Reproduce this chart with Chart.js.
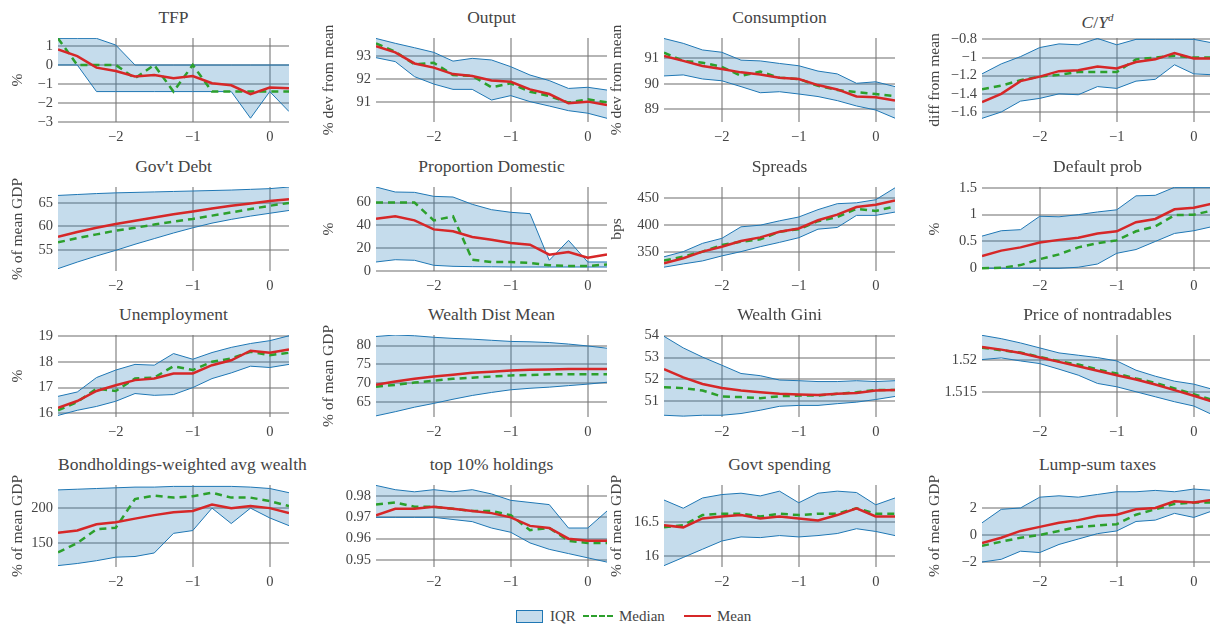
<!DOCTYPE html>
<html>
<head>
<meta charset="utf-8">
<script src="https://cdn.jsdelivr.net/npm/chart.js@4.4.1/dist/chart.umd.min.js"></script>
<style>
body { margin: 0; width: 1210px; height: 628px; overflow: hidden; background: #fff; position: relative;
       font-family: serif; color: #444; }
canvas { position: absolute; }
.ttl { position: absolute; font-size: 17.5px; text-align: center; line-height: 20px; white-space: nowrap; }
.ttl sup { font-size: 11px; }
.lg { position: absolute; font-size: 15px; line-height: 18px; top: 607px; }
.sw { position: absolute; }
</style>
</head>
<body>
<div class="sw" style="left:516px;top:610px;width:25px;height:11px;background:rgba(31,119,180,0.26);border:1px solid #1f77b4"></div>
<div class="lg" style="left:550px">IQR</div>
<div class="sw" style="left:583px;top:615px;width:30px;border-top:2.5px dashed #2ca02c"></div>
<div class="lg" style="left:619px">Median</div>
<div class="sw" style="left:684px;top:615px;width:27px;border-top:2.5px solid #d62728"></div>
<div class="lg" style="left:717px">Mean</div>
<script>
const xVals = [-2.75, -2.5, -2.25, -2, -1.75, -1.5, -1.25, -1, -0.75, -0.5, -0.25, 0, 0.25];
const xTickVals = [-2, -1, 0];

const panelTitles = ['TFP', 'Output', 'Consumption', '<i>C</i>/<i>Y</i><sup><i>d</i></sup>',
    "Gov't Debt", 'Proportion Domestic', 'Spreads', 'Default prob',
    'Unemployment', 'Wealth Dist Mean', 'Wealth Gini', 'Price of nontradables',
    'Bondholdings-weighted avg wealth', 'top 10% holdings', 'Govt spending', 'Lump-sum taxes'];

const yTitles = ['%', '% dev from mean', '% dev from mean', 'diff from mean',
    '% of mean GDP', '%', 'bps', '%',
    '%', '% of mean GDP', '', '',
    '% of mean GDP', '', '% of mean GDP', '% of mean GDP'];

const yTickVals = [
    [-3, -2, -1, 0, 1], [91, 92, 93], [89, 90, 91], [-1.6, -1.4, -1.2, -1, -0.8],
    [55, 60, 65], [0, 20, 40, 60], [350, 400, 450], [0, 0.5, 1, 1.5],
    [16, 17, 18, 19], [65, 70, 75, 80], [51, 52, 53, 54], [1.515, 1.52],
    [150, 200], [0.95, 0.96, 0.97, 0.98], [16, 16.5], [-2, 0, 2]
];

const yRanges = [
    [-3, 1.42], [90.15, 93.78], [88.5, 91.8], [-1.71, -0.785],
    [50.5, 68.4], [0, 73.7], [316, 470], [-0.05, 1.515],
    [15.86, 19.04], [61.1, 82.8], [50.28, 54.03], [1.511, 1.524],
    [116, 233], [0.9467, 0.9852], [15.84, 17.04], [-2.37, 3.7]
];

const iqrLow = [
    [0, 0, -1.4, -1.4, -1.4, -1.4, -1.4, -1.4, -1.4, -1.4, -2.8, -1.4, -2.45],
    [92.93, 92.76, 92.11, 91.79, 91.56, 91.56, 91.1, 91.29, 91.03, 90.84, 90.64, 90.53, 90.31],
    [90.31, 90.35, 90.19, 90.12, 89.89, 89.65, 89.69, 89.6, 89.5, 89.34, 89.13, 88.97, 88.65],
    [-1.67, -1.6, -1.48, -1.45, -1.4, -1.41, -1.32, -1.34, -1.26, -1.24, -1.08, -1.18, -1.19],
    [51.0, 52.4, 53.7, 54.9, 56.2, 57.4, 58.6, 59.7, 60.7, 61.5, 62.2, 62.8, 63.4],
    [7.9, 9.9, 9.4, 5.0, 4.1, 3.8, 3.7, 3.5, 3.5, 3.5, 3.5, 3.5, 3.5],
    [323, 329, 334.5, 343.6, 351.5, 360.6, 368.5, 377, 392.7, 395.8, 418, 418, 424],
    [0, 0, 0, 0, 0, 0.02, 0.08, 0.28, 0.35, 0.5, 0.65, 0.7, 0.78],
    [15.92, 16.12, 16.27, 16.47, 16.77, 16.7, 16.73, 17.0, 17.35, 17.57, 17.83, 17.78, 17.9],
    [61.4, 62.5, 63.7, 64.7, 65.8, 66.8, 67.6, 68.3, 68.7, 69.0, 69.4, 69.8, 70.3],
    [50.36, 50.32, 50.36, 50.36, 50.44, 50.59, 50.77, 50.81, 50.81, 50.89, 50.96, 51.08, 51.22],
    [1.52011, 1.52037, 1.51989, 1.51947, 1.51858, 1.51763, 1.51632, 1.51579, 1.515, 1.51421, 1.51342, 1.51274, 1.51132],
    [118, 121, 125, 130, 131, 136, 164, 168, 200, 178, 200, 186, 175],
    [0.970, 0.970, 0.970, 0.970, 0.969, 0.968, 0.965, 0.963, 0.958, 0.955, 0.953, 0.951, 0.949],
    [15.86, 15.98, 16.10, 16.22, 16.28, 16.27, 16.30, 16.28, 16.30, 16.33, 16.40, 16.36, 16.30],
    [-2.0, -1.8, -1.2, -1.3, -0.7, -0.3, 0.1, 0.3, 1.0, 1.1, 1.6, 1.3, 1.8]
];

const iqrHigh = [
    [1.4, 1.4, 1.4, 1.05, 0, 0, 0, 0, 0, 0, 0, 0, 0],
    [93.76, 93.55, 93.36, 93.16, 92.78, 92.9, 92.83, 92.54, 92.18, 91.94, 91.6, 91.65, 91.53],
    [91.78, 91.59, 91.33, 91.24, 90.93, 90.9, 90.8, 90.71, 90.5, 90.39, 90.02, 90.08, 89.89],
    [-1.18, -1.07, -0.99, -0.89, -0.85, -0.86, -0.79, -0.86, -0.8, -0.8, -0.8, -0.8, -0.84],
    [66.6, 66.8, 67.0, 67.15, 67.25, 67.35, 67.45, 67.55, 67.65, 67.75, 67.9, 68.05, 68.4],
    [73.7, 69.3, 69.0, 65.5, 64.9, 58.5, 53.8, 51.5, 50.3, 9.4, 26.9, 7.9, 7.9],
    [342, 351.5, 366.7, 375.8, 397, 400, 408, 415, 428.5, 439.4, 441, 446.7, 468.5],
    [0.6, 0.7, 0.72, 0.97, 0.96, 1.0, 1.05, 1.09, 1.35, 1.36, 1.51, 1.51, 1.51],
    [16.66, 16.83, 17.39, 17.68, 17.9, 17.87, 18.32, 18.1, 18.36, 18.56, 18.71, 18.82, 19.01],
    [82.4, 82.8, 82.6, 82.2, 81.9, 81.7, 81.4, 81.1, 81.0, 80.8, 80.4, 79.9, 79.3],
    [53.97, 53.44, 53.02, 52.65, 52.27, 52.17, 51.97, 51.94, 51.9, 51.9, 51.94, 51.9, 51.94],
    [1.52395, 1.52342, 1.52274, 1.52195, 1.52116, 1.52079, 1.52042, 1.51989, 1.51842, 1.51747, 1.51668, 1.51621, 1.51537],
    [226, 227, 228, 229, 230, 230, 231, 231, 231, 231, 230, 228, 222],
    [0.985, 0.983, 0.982, 0.983, 0.982, 0.983, 0.981, 0.978, 0.977, 0.976, 0.965, 0.965, 0.973],
    [16.82, 16.70, 16.85, 16.90, 16.92, 16.88, 16.95, 16.78, 16.92, 16.95, 16.93, 16.75, 16.85],
    [0.9, 1.9, 2.0, 2.8, 2.9, 2.8, 3.0, 3.2, 3.2, 3.3, 3.2, 3.4, 3.3]
];

const medianVals = [
    [1.4, 0, 0, 0, -0.7, 0, -1.4, 0, -1.4, -1.4, -1.4, -1.4, -1.4],
    [93.55, 93.19, 92.64, 92.71, 92.18, 92.14, 91.65, 91.82, 91.46, 91.27, 90.99, 91.13, 91.0],
    [91.22, 90.9, 90.83, 90.67, 90.31, 90.48, 90.24, 90.19, 89.92, 89.76, 89.67, 89.6, 89.52],
    [-1.35, -1.31, -1.25, -1.21, -1.19, -1.16, -1.16, -1.16, -1.02, -1.0, -0.98, -1.0, -1.0],
    [56.6, 57.5, 58.3, 59.1, 59.7, 60.4, 61.0, 61.6, 62.3, 63.0, 63.7, 64.4, 65.0],
    [60, 60, 60, 44.4, 48, 9.9, 7.9, 7.9, 7.0, 5.0, 4.4, 4.4, 5.8],
    [335, 342.4, 351.5, 363.6, 369.7, 374, 388, 392.7, 407.3, 415, 430, 426, 434.5],
    [0, 0.01, 0.06, 0.17, 0.26, 0.39, 0.47, 0.52, 0.69, 0.78, 0.99, 1.0, 1.08],
    [16.12, 16.44, 16.96, 16.87, 17.35, 17.39, 17.83, 17.68, 18.0, 18.13, 18.39, 18.26, 18.35],
    [69.1, 69.6, 70.2, 70.7, 71.2, 71.5, 71.8, 72.1, 72.2, 72.4, 72.4, 72.4, 72.4],
    [51.64, 51.6, 51.49, 51.22, 51.19, 51.14, 51.23, 51.26, 51.26, 51.34, 51.41, 51.52, 51.52],
    [1.522, 1.52158, 1.52121, 1.52053, 1.51984, 1.51932, 1.51853, 1.51789, 1.51711, 1.51642, 1.51553, 1.51463, 1.51368],
    [137, 150, 170, 172, 213, 218, 215, 217, 222, 215, 215, 210, 203],
    [0.976, 0.977, 0.975, 0.975, 0.974, 0.973, 0.973, 0.971, 0.964, 0.965, 0.959, 0.958, 0.958],
    [16.42, 16.45, 16.60, 16.62, 16.62, 16.58, 16.62, 16.60, 16.62, 16.62, 16.70, 16.62, 16.62],
    [-0.8, -0.5, -0.2, 0.0, 0.3, 0.6, 0.7, 0.8, 1.5, 1.9, 2.3, 2.4, 2.4]
];

const meanVals = [
    [0.82, 0.47, -0.14, -0.32, -0.6, -0.53, -0.7, -0.58, -0.96, -1.07, -1.54, -1.19, -1.23],
    [93.43, 93.16, 92.68, 92.5, 92.22, 92.14, 91.94, 91.89, 91.56, 91.36, 90.96, 91.03, 90.88],
    [91.09, 90.9, 90.7, 90.58, 90.45, 90.37, 90.24, 90.19, 89.95, 89.78, 89.5, 89.47, 89.34],
    [-1.49, -1.4, -1.26, -1.21, -1.15, -1.14, -1.1, -1.12, -1.05, -1.02, -0.95, -1.01, -1.01],
    [57.8, 58.8, 59.7, 60.5, 61.2, 61.9, 62.6, 63.2, 63.8, 64.4, 64.9, 65.4, 65.8],
    [45.9, 48.0, 44.4, 36.5, 34.8, 29.8, 27.5, 24.6, 23.1, 14.3, 16.7, 11.7, 14.6],
    [330.3, 339.4, 351.5, 360.6, 371, 377.6, 388, 394, 409, 419.4, 433.3, 437.6, 445.5],
    [0.23, 0.33, 0.39, 0.48, 0.53, 0.57, 0.65, 0.69, 0.86, 0.92, 1.1, 1.13, 1.21],
    [16.22, 16.48, 16.87, 17.09, 17.29, 17.35, 17.55, 17.55, 17.87, 18.06, 18.43, 18.35, 18.48],
    [69.6, 70.5, 71.2, 71.8, 72.3, 72.8, 73.1, 73.4, 73.6, 73.7, 73.8, 73.8, 73.8],
    [52.47, 52.09, 51.79, 51.61, 51.49, 51.41, 51.34, 51.31, 51.29, 51.34, 51.38, 51.49, 51.52],
    [1.5221, 1.52168, 1.52116, 1.52042, 1.51974, 1.51905, 1.51832, 1.51763, 1.51695, 1.51616, 1.51526, 1.51437, 1.51342],
    [165, 168, 177, 180, 185, 190, 194, 196, 205, 200, 203, 200, 193],
    [0.971, 0.974, 0.974, 0.975, 0.974, 0.973, 0.972, 0.970, 0.966, 0.965, 0.960, 0.959, 0.959],
    [16.45, 16.42, 16.55, 16.58, 16.60, 16.55, 16.58, 16.55, 16.52, 16.60, 16.70, 16.58, 16.58],
    [-0.6, -0.2, 0.3, 0.6, 0.9, 1.1, 1.4, 1.5, 1.9, 2.0, 2.5, 2.4, 2.6]
];

// panel geometry (plot areas)
const colLeft = [58, 376, 664, 982];
const axisW = [51, 58, 58, 58];
const rowTop = [38, 187, 335, 485];
const rowH = [84, 84, 82, 82];
const plotW = 231;
const padTop = 22, padRight = 6, xAxisH = 30;

const serif = "'Liberation Serif', serif";
Chart.defaults.font.family = serif;
Chart.defaults.color = '#444';

function fmt(v) {
    return String(v).replace('-', '\u2212');
}

function pts(arr) {
    return arr.map((y, i) => ({ x: xVals[i], y: y }));
}

const gridOpts = { color: 'rgba(120,120,120,0.55)', lineWidth: 2, drawTicks: false };
const tickFont = { family: serif, size: 14.5 };

function makePanel(k) {
    const col = k % 4, row = Math.floor(k / 4);
    const L = colLeft[col], T = rowTop[row], H = rowH[row], aw = axisW[col];

    const ttl = document.createElement('div');
    ttl.className = 'ttl';
    ttl.innerHTML = panelTitles[k];
    ttl.style.left = L + 'px';
    ttl.style.width = plotW + 'px';
    ttl.style.top = (T - 31) + 'px';
    document.body.appendChild(ttl);

    const cv = document.createElement('canvas');
    cv.width = aw + plotW + padRight;
    cv.height = padTop + H + xAxisH;
    cv.style.left = (L - aw) + 'px';
    cv.style.top = (T - padTop) + 'px';
    document.body.appendChild(cv);

    new Chart(cv, {
        type: 'line',
        data: {
            datasets: [
                { data: pts(meanVals[k]), borderColor: '#d62728', borderWidth: 2.5, pointRadius: 0, fill: false },
                { data: pts(medianVals[k]), borderColor: '#2ca02c', borderWidth: 2.5, borderDash: [7, 5], pointRadius: 0, fill: false },
                { data: pts(iqrHigh[k]), borderColor: '#1f77b4', borderWidth: 1, pointRadius: 0,
                  fill: '+1', backgroundColor: 'rgba(31,119,180,0.26)' },
                { data: pts(iqrLow[k]), borderColor: '#1f77b4', borderWidth: 1, pointRadius: 0, fill: false }
            ]
        },
        options: {
            animation: false,
            responsive: false,
            events: [],
            layout: { padding: { top: padTop, right: padRight, left: 0, bottom: 0 } },
            plugins: { legend: { display: false }, tooltip: { enabled: false } },
            scales: {
                x: {
                    type: 'linear',
                    min: -2.75,
                    max: 0.25,
                    grid: gridOpts,
                    border: { display: false },
                    ticks: { padding: 6, autoSkip: false, maxRotation: 0, font: tickFont, callback: v => fmt(v) },
                    afterBuildTicks: s => { s.ticks = xTickVals.map(v => ({ value: v })); },
                    afterFit: s => { s.height = xAxisH; }
                },
                y: {
                    min: yRanges[k][0],
                    max: yRanges[k][1],
                    grid: gridOpts,
                    border: { display: false },
                    ticks: { padding: 5, autoSkip: false, font: tickFont, callback: v => fmt(v) },
                    title: { display: yTitles[k] !== '', text: yTitles[k], font: { family: serif, size: 15.5 },
                             padding: { top: 2, bottom: 0 } },
                    afterBuildTicks: s => { s.ticks = yTickVals[k].map(v => ({ value: v })); },
                    afterFit: s => { s.width = aw; }
                }
            }
        }
    });
}

for (let k = 0; k < 16; k++) {
    makePanel(k);
}
</script>
</body>
</html>
